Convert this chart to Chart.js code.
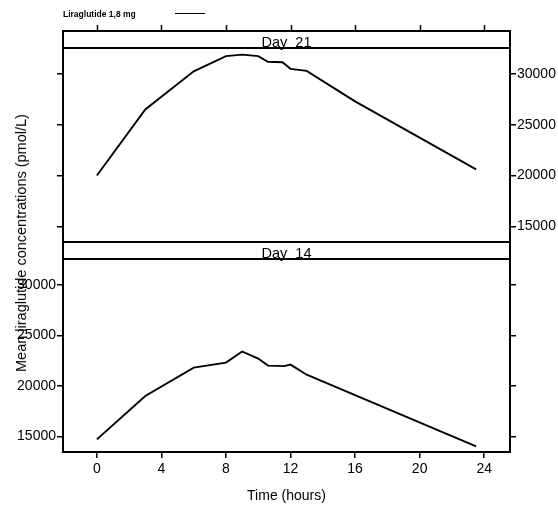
<!DOCTYPE html>
<html>
<head>
<meta charset="utf-8">
<script src="https://cdn.jsdelivr.net/npm/chart.js@4.4.1/dist/chart.umd.min.js"></script>
<style>
    body { margin: 0; background: #fff; }
    #wrap { position: relative; width: 558px; height: 509px; overflow: hidden; background: #fff; }
    #wrap canvas { position: absolute; left: 0; top: 0; }
    .legend-text {
        position: absolute; left: 63px; top: 9px;
        font: bold 8.5px "Liberation Sans", Arial, sans-serif; color: #000;
    }
    .legend-line { position: absolute; left: 175px; top: 13px; width: 30px; height: 0; border-top: 1.5px solid #000; }
    .y-title {
        position: absolute; left: 21px; top: 243px;
        transform: translate(-50%, -50%) rotate(-90deg);
        white-space: nowrap;
        font: 14.5px "Liberation Sans", Arial, sans-serif; color: #000;
    }
</style>
</head>
<body>
<div id="wrap">
    <canvas id="day21" width="558" height="509"></canvas>
    <canvas id="day14" width="558" height="509"></canvas>
    <div class="legend-text">Liraglutide 1,8 mg</div>
    <div class="legend-line"></div>
    <div class="y-title">Mean liraglutide concentrations (pmol/L)</div>
</div>
<script>
// ---- data ----
const hoursDay21 = [0, 3, 6, 8, 9, 10, 10.6, 11.5, 12, 13, 16, 23.5];
const concDay21 = [20000, 26500, 30250, 31750, 31900, 31750, 31200, 31150, 30500, 30300, 27300, 20600];

const hoursDay14 = [0, 3, 6, 8, 9, 10, 10.6, 11.6, 12, 13, 23.5];
const concDay14 = [14700, 19000, 21800, 22300, 23400, 22700, 22000, 21950, 22100, 21100, 14000];

const xTicks = [0, 4, 8, 12, 16, 20, 24];
const yTicks = [15000, 20000, 25000, 30000];

const FONT = '"Liberation Sans", Arial, sans-serif';
const X_MIN = -2.1, X_MAX = 25.6;
const Y_MIN = 13450, Y_MAX = 32550;
const STRIP_H = 17;

/**
 * Lattice-style frame: panel box, strip label above it, optional ticks on top
 */
const latticePlugin = {
    id: 'lattice',
    afterDraw(chart, args, opts) {
        const { ctx, chartArea: a } = chart;
        ctx.save();
        ctx.strokeStyle = '#000';
        ctx.lineWidth = 2;
        ctx.strokeRect(a.left, a.top, a.right - a.left, a.bottom - a.top);

        // strip
        const sTop = a.top - STRIP_H;
        ctx.fillStyle = '#fff';
        ctx.fillRect(a.left, sTop, a.right - a.left, STRIP_H);
        ctx.fillStyle = '#000';
        ctx.font = '14.5px ' + FONT;
        ctx.textAlign = 'center';
        ctx.textBaseline = 'alphabetic';
        ctx.fillText(opts.label, (a.left + a.right) / 2, a.top - 1);
        ctx.strokeRect(a.left, sTop, a.right - a.left, STRIP_H);

        if (opts.topTicks) {
            const xs = chart.scales.x;
            ctx.lineWidth = 1.5;
            ctx.beginPath();
            xTicks.forEach(v => {
                const px = Math.round(xs.getPixelForValue(v)) + 0.5;
                ctx.moveTo(px, sTop);
                ctx.lineTo(px, sTop - 6);
            });
            ctx.stroke();
        }
        ctx.restore();
    }
};

function yAxis(position, showLabels, width) {
    return {
        type: 'linear',
        position: position,
        min: Y_MIN,
        max: Y_MAX,
        afterBuildTicks: s => { s.ticks = yTicks.map(v => ({ value: v })); },
        afterFit: s => { s.width = width; },
        border: { display: false },
        grid: { drawOnChartArea: false, drawTicks: true, tickLength: 6, color: '#000', lineWidth: 1.5 },
        ticks: {
            display: showLabels, color: '#000', padding: 1,
            font: { family: FONT, size: 14 },
            callback: v => String(v)
        }
    };
}

function panelChart(canvasId, hours, conc, label, cfg) {
    const canvas = document.getElementById(canvasId);
    return new Chart(canvas, {
        type: 'line',
        data: {
            datasets: [{
                data: hours.map((h, i) => ({ x: h, y: conc[i] })),
                borderColor: '#000',
                borderWidth: 1.9,
                pointRadius: 0,
                tension: 0,
                fill: false,
                yAxisID: cfg.dataAxis
            }]
        },
        options: {
            responsive: false,
            animation: false,
            layout: { padding: cfg.padding },
            plugins: {
                legend: { display: false },
                tooltip: { enabled: false },
                lattice: { label: label, topTicks: cfg.topTicks }
            },
            scales: {
                x: {
                    type: 'linear',
                    display: cfg.showX,
                    min: X_MIN,
                    max: X_MAX,
                    afterBuildTicks: s => { s.ticks = xTicks.map(v => ({ value: v })); },
                    afterFit: s => { s.height = cfg.showX ? 57 : 0; },
                    border: { display: false },
                    grid: { drawOnChartArea: false, drawTicks: true, tickLength: 6, color: '#000', lineWidth: 1.5 },
                    ticks: { color: '#000', padding: 3, maxRotation: 0, font: { family: FONT, size: 14 } },
                    title: {
                        display: true,
                        text: 'Time (hours)',
                        color: '#000',
                        padding: { top: 4, bottom: 4 },
                        font: { family: FONT, size: 14 }
                    }
                },
                yL: yAxis('left', cfg.leftLabels, 63),
                yR: yAxis('right', !cfg.leftLabels, 48)
            }
        },
        plugins: [latticePlugin]
    });
}

document.addEventListener('DOMContentLoaded', function() {
    panelChart('day21', hoursDay21, concDay21, 'Day  21', {
        dataAxis: 'yR', leftLabels: false, showX: false, topTicks: true,
        padding: { top: 48, bottom: 267, left: 0, right: 0 }
    });
    panelChart('day14', hoursDay14, concDay14, 'Day  14', {
        dataAxis: 'yL', leftLabels: true, showX: true, topTicks: false,
        padding: { top: 259, bottom: 0, left: 0, right: 0 }
    });
});
</script>
</body>
</html>
